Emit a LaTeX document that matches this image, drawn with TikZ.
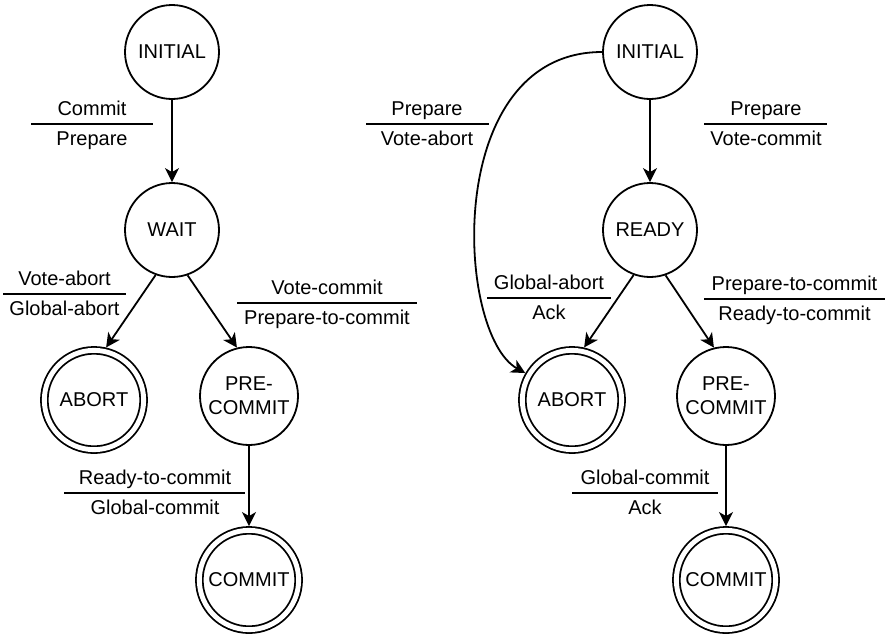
\documentclass[tikz,border=0pt]{standalone}
\usepackage{fontspec}
\setmainfont{Liberation Sans}
\usetikzlibrary{arrows.meta}
\begin{document}
\begin{tikzpicture}[x=1pt,y=-1pt,
  every node/.style={font=\fontsize{20}{24}\selectfont},
  state/.style={circle,draw,line width=1.8pt,minimum size=94pt,inner sep=0pt,align=center},
  final/.style={state,double,double distance=4.9pt,minimum size=99.3pt,outer sep=4.3pt},
  lbl/.style={anchor=base,inner sep=0pt},
  fracrule/.style={line width=1.8pt},
  edge/.style={line width=1.8pt,-{Stealth[length=14pt,width=14pt,inset=4pt]}},
]
\useasboundingbox[fill=white] (0,0) rectangle (887,633);

% ---------- left machine ----------
\node[state] (I1) at (172,52) {INITIAL};
\node[state] (W) at (172,230) {WAIT};
\node[final] (A1) at (94,400) {ABORT};
\node[state,minimum size=98pt] (P1) at (249,396) {PRE-\\COMMIT};
\node[final] (C1) at (249,580) {COMMIT};

\draw[edge] (I1) -- (W);
\draw[edge] (W.250) -- (A1.77);
\draw[edge] (W.289) -- (P1.104);
\draw[edge] (P1) -- (C1);

\node[lbl] (l1a) at (92,115) {Commit};
\node[lbl] (l1b) at (92,145) {Prepare};
\draw[fracrule] (31,124) -- (153,124);

\node[lbl] (l2a) at (64.5,285) {Vote-abort};
\node[lbl] (l2b) at (64.5,315) {Global-abort};
\draw[fracrule] (3,294) -- (126,294);

\node[lbl] (l3a) at (327,294) {Vote-commit};
\node[lbl] (l3b) at (327,324) {Prepare-to-commit};
\draw[fracrule] (237,303) -- (417,303);

\node[lbl] (l4a) at (155,484) {Ready-to-commit};
\node[lbl] (l4b) at (155,514) {Global-commit};
\draw[fracrule] (64,493) -- (245,493);

% ---------- right machine ----------
\node[state] (I2) at (650,52) {INITIAL};
\node[state] (R) at (650,230) {READY};
\node[final] (A2) at (572,400) {ABORT};
\node[state,minimum size=98pt] (P2) at (726,396) {PRE-\\COMMIT};
\node[final] (C2) at (726,580) {COMMIT};

\draw[edge] (I2) -- (R);
\draw[edge] (R.250) -- (A2.77);
\draw[edge] (R.289) -- (P2.104);
\draw[edge] (P2) -- (C2);
\draw[edge] (I2.west) .. controls +(-160,0) and +(-70,-39) .. (A2.150);

\node[lbl] (r1a) at (427,115) {Prepare};
\node[lbl] (r1b) at (427,145) {Vote-abort};
\draw[fracrule] (366,124) -- (489,124);

\node[lbl] (r2a) at (766,115) {Prepare};
\node[lbl] (r2b) at (766,145) {Vote-commit};
\draw[fracrule] (704,124) -- (827,124);

\node[lbl] (r3a) at (549,289) {Global-abort};
\node[lbl] (r3b) at (549,319) {Ack};
\draw[fracrule] (487,298) -- (611,298);

\node[lbl] (r4a) at (794.5,290) {Prepare-to-commit};
\node[lbl] (r4b) at (794.5,320) {Ready-to-commit};
\draw[fracrule] (704,299) -- (885,299);

\node[lbl] (r5a) at (645,484) {Global-commit};
\node[lbl] (r5b) at (645,514) {Ack};
\draw[fracrule] (572,493) -- (718,493);
\end{tikzpicture}
\end{document}
